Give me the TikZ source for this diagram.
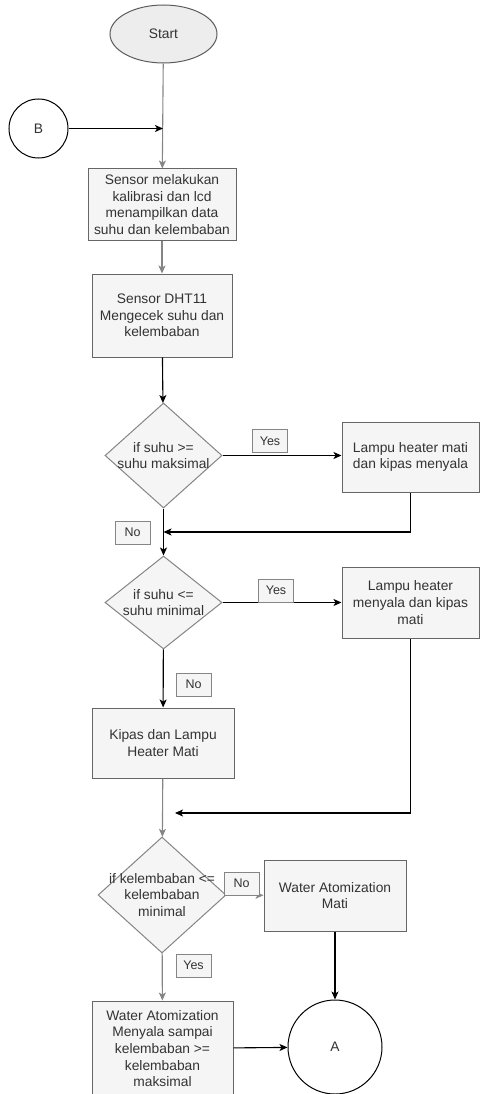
\documentclass[tikz,border=0pt]{standalone}
\usepackage{fontspec}
\setmainfont{Liberation Sans}
\usetikzlibrary{positioning,shapes.geometric,arrows.meta}
\definecolor{boite}{HTML}{F5F5F5}
\definecolor{bord}{HTML}{666666}
\definecolor{texte}{HTML}{333333}
\definecolor{fleche}{HTML}{858585}
\tikzset{
  proc/.style={rectangle,draw=bord,fill=boite,text=texte,align=center,line width=1pt,
    font=\fontsize{13.8}{16.6}\selectfont,inner sep=1pt},
  decis/.style={diamond,draw=bord!80,fill=boite,line width=1pt,inner sep=0pt},
  dtexte/.style={text=texte,align=center,font=\fontsize{13.8}{16.6}\selectfont,inner sep=0pt},
  rep/.style={rectangle,draw=bord!80,fill=boite,text=texte,line width=1pt,
    font=\fontsize{12.5}{15}\selectfont,minimum width=35pt,minimum height=23pt,inner sep=1pt},
  conn/.style={circle,draw=black,fill=white,line width=1pt,text=texte,
    font=\fontsize{13.8}{16.6}\selectfont},
  barr/.style={draw=black,line width=1.1pt,-{Stealth[length=8pt,width=7pt,inset=2pt]}},
  garr/.style={draw=fleche,line width=1.1pt,-{Stealth[length=8pt,width=7pt,inset=2pt]}}
}
\begin{document}
\begin{tikzpicture}[x=1pt,y=-1pt]
  \useasboundingbox (0,0) rectangle (479,1094);
  % debut et connecteur B
  \node[ellipse,draw=bord!90!black,fill=black!7,line width=1pt,text=texte,
    font=\fontsize{13.8}{16.6}\selectfont,minimum width=107pt,minimum height=58pt] (start) at (163.5,34) {Start};
  \node[conn,minimum size=59pt] (b) at (38.5,128.5) {B};
  \coordinate (jb) at (163,128.5);
  \node[proc,minimum width=148pt,minimum height=71pt] (k1) at (162,204.5)
    {Sensor melakukan\\kalibrasi dan lcd\\menampilkan data\\suhu dan kelembaban};
  \node[proc,minimum width=140pt,minimum height=83pt] (k2) at (162,315.5)
    {Sensor DHT11\\Mengecek suhu dan\\kelembaban};
  % suhu maksimal
  \node[decis,minimum width=117pt,minimum height=105pt] (d1) at (163.5,455.5) {};
  \node[dtexte] (t1) at (d1) {if suhu >=\\suhu maksimal};
  \node[proc,minimum width=137pt,minimum height=70pt] (k3) at (410.5,457)
    {Lampu heater mati\\dan kipas menyala};
  \coordinate (m1) at (163.5,532);
  % suhu minimal
  \node[decis,minimum width=117pt,minimum height=93pt] (d2) at (163.5,602.5) {};
  \node[dtexte] (t2) at (d2) {if suhu <=\\suhu minimal};
  \node[proc,minimum width=137pt,minimum height=71pt] (k4) at (410.5,602.5)
    {Lampu heater\\menyala dan kipas\\mati};
  \node[proc,minimum width=142pt,minimum height=70pt] (k5) at (163,743)
    {Kipas dan Lampu\\Heater Mati};
  \coordinate (m2) at (175,813);
  % kelembaban
  \node[decis,minimum width=128pt,minimum height=116pt] (d3) at (162,895) {};
  \node[dtexte] (t3) at (d3) {if kelembaban <=\\kelembaban\\minimal};
  \node[proc,minimum width=142pt,minimum height=71pt] (k6) at (335,895.5)
    {Water Atomization\\Mati};
  \node[proc,minimum width=141pt,minimum height=95pt] (k7) at (162.5,1048.5)
    {Water Atomization\\Menyala sampai\\kelembaban >=\\kelembaban\\maksimal};
  \node[conn,minimum size=94pt] (a) at (335,1047) {A};
  % fleches
  \draw[garr] (start) -- (k1);
  \draw[barr] (b) -- (jb);
  \draw[garr] (k1) -- (k2);
  \draw[barr] (k2) -- (d1);
  \draw[barr] (d1.east) -- (d1.east -| k3.west);
  \draw[barr] (k3.south) |- (m1);
  \draw[barr] (d1) -- (d2);
  \draw[barr] (d2) -- (k4);
  \draw[barr] (d2) -- (k5);
  \draw[barr] (k4.south) |- (m2);
  \draw[garr] (k5) -- (d3);
  \draw[garr] (d3) -- (k6);
  \draw[garr] (d3) -- (k7);
  \draw[barr] (k6) -- (a);
  \draw[barr] (k7) -- (a);
  % etiquettes
  \node[rep] (y1) at (270,441) {Yes};
  \node[rep] (n1) at (132.5,532.5) {No};
  \node[rep] (y2) at (276,590.5) {Yes};
  \node[rep] (n2) at (193.5,684.5) {No};
  \node[rep] (n3) at (241.5,883.5) {No};
  \node[rep] (y3) at (193.5,965.5) {Yes};
\end{tikzpicture}
\end{document}
